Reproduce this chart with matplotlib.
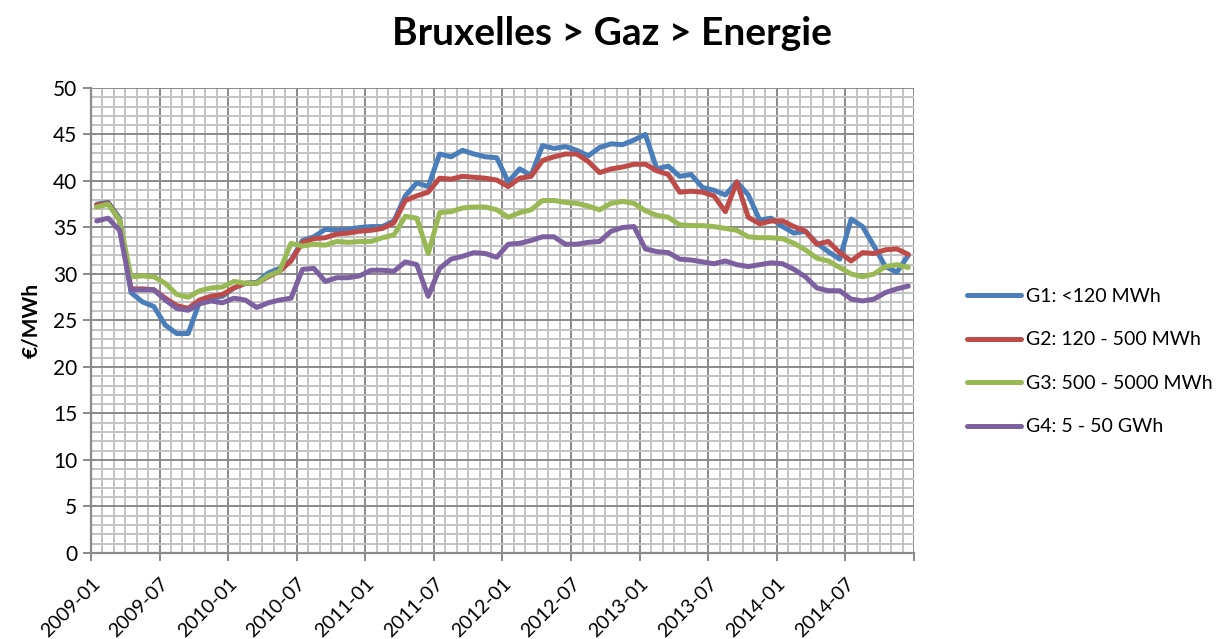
import numpy as np
import matplotlib
matplotlib.use("Agg")
import matplotlib.pyplot as plt
from matplotlib.ticker import MultipleLocator

plt.rcParams['font.family'] = ['Lato', 'DejaVu Sans']

# monthly energy price, 2009-01 .. 2014-12 [EUR/MWh]
tick_labels = ['2009-01', '2009-07', '2010-01', '2010-07', '2011-01', '2011-07',
               '2012-01', '2012-07', '2013-01', '2013-07', '2014-01', '2014-07']

g1 = [37.5, 37.7, 36.0, 28.0, 27.0, 26.5, 24.5, 23.6, 23.6, 27.0, 27.4, 27.6,
      28.5, 29.0, 29.1, 30.1, 30.6, 31.5, 33.6, 34.0, 34.8, 34.7, 34.8, 35.0,
      35.1, 35.1, 35.7, 38.4, 39.8, 39.4, 42.9, 42.6, 43.3, 42.9, 42.6, 42.5,
      39.9, 41.3, 40.6, 43.8, 43.5, 43.7, 43.3, 42.7, 43.6, 44.0, 43.9, 44.4,
      45.0, 41.3, 41.6, 40.5, 40.7, 39.3, 39.0, 38.5, 39.9, 38.5, 35.8, 36.0,
      35.1, 34.4, 34.6, 33.3, 32.4, 31.6, 35.9, 35.1, 33.0, 30.8, 30.2, 32.0]

g2 = [37.4, 37.6, 35.8, 28.4, 28.4, 28.3, 27.4, 26.6, 26.3, 27.2, 27.6, 27.8,
      28.5, 29.0, 29.0, 29.7, 30.3, 31.4, 33.4, 33.8, 33.9, 34.3, 34.4, 34.6,
      34.7, 34.9, 35.5, 37.9, 38.4, 38.8, 40.3, 40.2, 40.5, 40.4, 40.3, 40.1,
      39.4, 40.3, 40.5, 42.2, 42.6, 42.9, 42.9, 42.1, 40.9, 41.3, 41.5, 41.8,
      41.8, 41.1, 40.7, 38.8, 38.9, 38.8, 38.4, 36.7, 39.9, 36.1, 35.4, 35.7,
      35.7, 35.1, 34.6, 33.2, 33.5, 32.3, 31.4, 32.3, 32.2, 32.6, 32.7, 32.1]

g3 = [37.2, 37.5, 35.8, 29.7, 29.8, 29.7, 29.0, 27.8, 27.5, 28.2, 28.5, 28.6,
      29.2, 29.0, 29.0, 29.8, 30.3, 33.3, 33.0, 33.2, 33.1, 33.5, 33.4, 33.5,
      33.5, 33.9, 34.2, 36.2, 36.0, 32.2, 36.6, 36.7, 37.1, 37.2, 37.2, 36.9,
      36.1, 36.6, 36.9, 37.9, 37.9, 37.7, 37.6, 37.3, 36.9, 37.6, 37.8, 37.6,
      36.8, 36.3, 36.1, 35.3, 35.2, 35.2, 35.1, 34.9, 34.7, 34.0, 33.9, 33.9,
      33.8, 33.3, 32.6, 31.7, 31.4, 30.7, 30.0, 29.7, 30.0, 30.8, 31.0, 30.7]

g4 = [35.7, 36.0, 34.7, 28.3, 28.3, 28.3, 27.2, 26.3, 26.1, 26.8, 27.1, 26.9,
      27.4, 27.2, 26.4, 26.9, 27.2, 27.4, 30.5, 30.6, 29.2, 29.6, 29.6, 29.8,
      30.4, 30.4, 30.3, 31.3, 31.0, 27.6, 30.6, 31.6, 31.9, 32.3, 32.2, 31.8,
      33.2, 33.3, 33.6, 34.0, 34.0, 33.2, 33.2, 33.4, 33.5, 34.6, 35.0, 35.1,
      32.7, 32.4, 32.3, 31.6, 31.5, 31.3, 31.1, 31.4, 31.0, 30.8, 31.0, 31.2,
      31.1, 30.5, 29.7, 28.5, 28.2, 28.2, 27.3, 27.1, 27.3, 28.0, 28.4, 28.7]

labels = ['G1: <120 MWh', 'G2: 120 - 500 MWh', 'G3: 500 - 5000 MWh', 'G4: 5 - 50 GWh']
colors = ['#4a7ebb', '#be4b48', '#98b954', '#7d60a0']

n = len(g1)
x = np.arange(n) + 0.5   # points sit in the middle of each month slot

fig = plt.figure(figsize=(12.28, 6.39), dpi=100)
ax = fig.add_axes([0.0741, 0.1346, 0.6702, 0.7277])

for s, lab, c in zip([g1, g2, g3, g4], labels, colors):
    ax.plot(x, s, color=c, lw=3.6, label=lab, solid_capstyle='round', solid_joinstyle='round', zorder=3)

ax.set_xlim(0, n)
ax.set_ylim(0, 50)
ax.set_xticks(np.arange(0, n + 1, 6))
ax.set_xticklabels(tick_labels + [''], rotation=45, ha='right', rotation_mode='anchor', fontsize=14)
ax.xaxis.set_minor_locator(MultipleLocator(1))
ax.yaxis.set_major_locator(MultipleLocator(5))
ax.yaxis.set_minor_locator(MultipleLocator(1))
ax.tick_params(axis='y', labelsize=15)

ax.grid(which='minor', color='#c3c3c3', lw=1.4, zorder=0)
ax.grid(which='major', color='#8a8a8a', lw=1.4, zorder=1)
ax.tick_params(which='minor', length=0)
ax.tick_params(which='major', direction='out', length=6, width=1.4, color='#8a8a8a', pad=4)
ax.tick_params(axis='x', pad=10)
ax.set_axisbelow(True)
for side in ['top', 'right']:
    ax.spines[side].set_visible(False)
for side in ['left', 'bottom']:
    ax.spines[side].set_color('#8a8a8a')
    ax.spines[side].set_linewidth(1.6)

ax.set_ylabel('€/MWh', fontsize=15, fontweight='bold', labelpad=8)
fig.suptitle('Bruxelles > Gaz > Energie', x=0.498, y=0.975, fontsize=28, fontweight='bold')

fig.legend(loc='center left', bbox_to_anchor=(0.773, 0.434), frameon=False, fontsize=14,
           handlelength=2.8, handletextpad=0.25, labelspacing=1.36)

fig.savefig('out.png', dpi=100)
